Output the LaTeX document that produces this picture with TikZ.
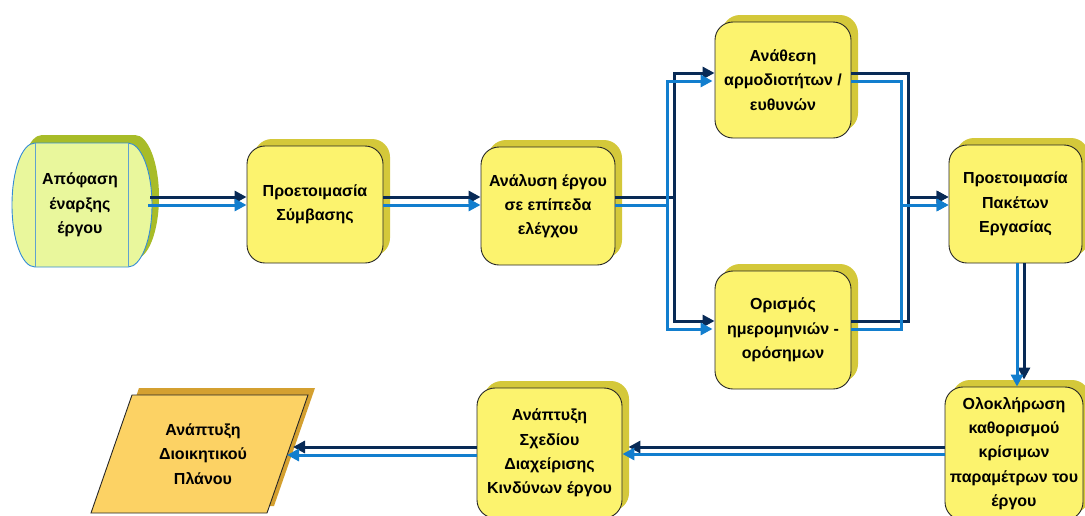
\documentclass[tikz,border=0pt]{standalone}
\usepackage{fontspec}
\setmainfont{Liberation Sans}
\usetikzlibrary{arrows.meta,shadows}

\definecolor{boxfill}{RGB}{252,243,110}
\definecolor{boxshade}{RGB}{212,200,58}
\definecolor{drumfill}{RGB}{233,247,156}
\definecolor{drumshade}{RGB}{168,188,40}
\definecolor{drumedge}{RGB}{52,140,214}
\definecolor{drumrule}{RGB}{96,162,206}
\definecolor{planfill}{RGB}{252,210,100}
\definecolor{planshade}{RGB}{212,160,48}
\definecolor{navyline}{RGB}{8,42,86}
\definecolor{skyline}{RGB}{18,126,206}

\tikzset{
  labeltext/.style={font=\fontsize{16pt}{24.3pt}\selectfont\bfseries, align=center, inner sep=0pt},
  stepbox/.style={labeltext, draw=black!85, line width=0.9pt, fill=boxfill,
    rounded corners=18pt,
    general shadow={shadow xshift=7pt, shadow yshift=7pt, fill=boxshade}},
  navyarrow/.style={draw=navyline, line width=3pt, -{Triangle[length=12pt,width=12pt]}},
  skyarrow/.style={draw=skyline, line width=3pt, -{Triangle[length=12pt,width=12pt]}},
}

\begin{document}
\begin{tikzpicture}[x=1pt,y=-1pt]
\useasboundingbox (0,0) rectangle (1085,515);

% start event: horizontal drum
\draw[drumedge, line width=0.9pt, fill=drumfill,
      general shadow={shadow xshift=7pt, shadow yshift=8pt, fill=drumshade}]
  (35,143) -- (128,143)
  .. controls (141.2,143) and (152,170.8) .. (152,205)
  .. controls (152,239.2) and (141.2,267) .. (128,267)
  -- (35,267)
  .. controls (21.8,267) and (12,239.2) .. (12,205)
  .. controls (12,170.8) and (21.8,143) .. (35,143) -- cycle;
\draw[drumrule, line width=0.8pt] (35,143) -- (35,267) (128,143) -- (128,267);
\node[labeltext, minimum width=140pt, minimum height=124pt] (n1) at (80,205)
  {Απόφαση\\έναρξης\\έργου};

% process steps
\node[stepbox, minimum width=136pt, minimum height=117pt] (n2) at (315,204.5)
  {Προετοιμασία\\Σύμβασης};
\node[stepbox, minimum width=134pt, minimum height=118pt] (n3) at (548,206)
  {Ανάλυση έργου\\σε επίπεδα\\ελέγχου};
\node[stepbox, minimum width=136pt, minimum height=116pt] (n4) at (783,80)
  {Ανάθεση\\αρμοδιοτήτων /\\ευθυνών};
\node[stepbox, minimum width=136pt, minimum height=118pt] (n5) at (783,330)
  {Ορισμός\\ημερομηνιών -\\ορόσημων};
\node[stepbox, minimum width=133pt, minimum height=118pt] (n6) at (1015.5,204)
  {Προετοιμασία\\Πακέτων\\Εργασίας};
\node[stepbox, minimum width=138pt, minimum height=133pt] (n7) at (1014,453.5)
  {Ολοκλήρωση\\καθορισμού\\κρίσιμων\\παραμέτρων του\\έργου};
\node[stepbox, minimum width=145pt, minimum height=130pt] (n8) at (549.5,453)
  {Ανάπτυξη\\Σχεδίου\\Διαχείρισης\\Κινδύνων έργου};

% final output: parallelogram
\fill[planshade] (139,388) -- (315,388) -- (274,506) -- (98,506) -- cycle;
\draw[black!85, line width=0.9pt, fill=planfill]
  (132,395) -- (308,395) -- (267,513) -- (91,513) -- cycle;
\node[labeltext] (n9) at (203,454) {Ανάπτυξη\\Διοικητικού\\Πλάνου};
\coordinate (n9a) at (293,447);
\coordinate (n9b) at (287,455);

% connectors: dark rail
\draw[navyarrow] (n1.east |- 0,197) -- (n2.west |- 0,197);
\draw[navyarrow] (n2.east |- 0,197) -- (n3.west |- 0,197);
\draw[navyarrow] (n3.east |- 0,197) -- (674,197) -- (674,73) -- (n4.west |- 0,73);
\draw[navyarrow] (n3.east |- 0,197) -- (674,197) -- (674,321) -- (n5.west |- 0,321);
\draw[navyarrow] (n4.east |- 0,73) -- (908,73) -- (908,197) -- (n6.west |- 0,197);
\draw[navyarrow] (n5.east |- 0,321) -- (908,321) -- (908,197) -- (n6.west |- 0,197);
\draw[navyarrow, shorten >=7pt] (n6.south -| 1024,0) -- (n7.north -| 1024,0);
\draw[navyarrow, shorten >=6pt] (n7.west |- 0,447) -- (n8.east |- 0,447);
\draw[navyarrow] (n8.west |- 0,447) -- (n9a);

% connectors: light rail
\draw[skyarrow] ([xshift=-2pt]n1.east |- 0,205) -- (n2.west |- 0,205);
\draw[skyarrow] (n2.east |- 0,205) -- (n3.west |- 0,205);
\draw[skyarrow] (n3.east |- 0,205) -- (667,205) -- (667,81) -- ([xshift=-2pt]n4.west |- 0,81);
\draw[skyarrow] (n3.east |- 0,205) -- (667,205) -- (667,329) -- ([xshift=-2pt]n5.west |- 0,329);
\draw[skyarrow] (n4.east |- 0,81) -- (901,81) -- (901,205) -- (n6.west |- 0,205);
\draw[skyarrow] (n5.east |- 0,329) -- (901,329) -- (901,205) -- (n6.west |- 0,205);
\draw[skyarrow] (n6.south -| 1017,0) -- (n7.north -| 1017,0);
\draw[skyarrow] (n7.west |- 0,454) -- (n8.east |- 0,454);
\draw[skyarrow] (n8.west |- 0,455) -- (n9b);
\end{tikzpicture}
\end{document}
